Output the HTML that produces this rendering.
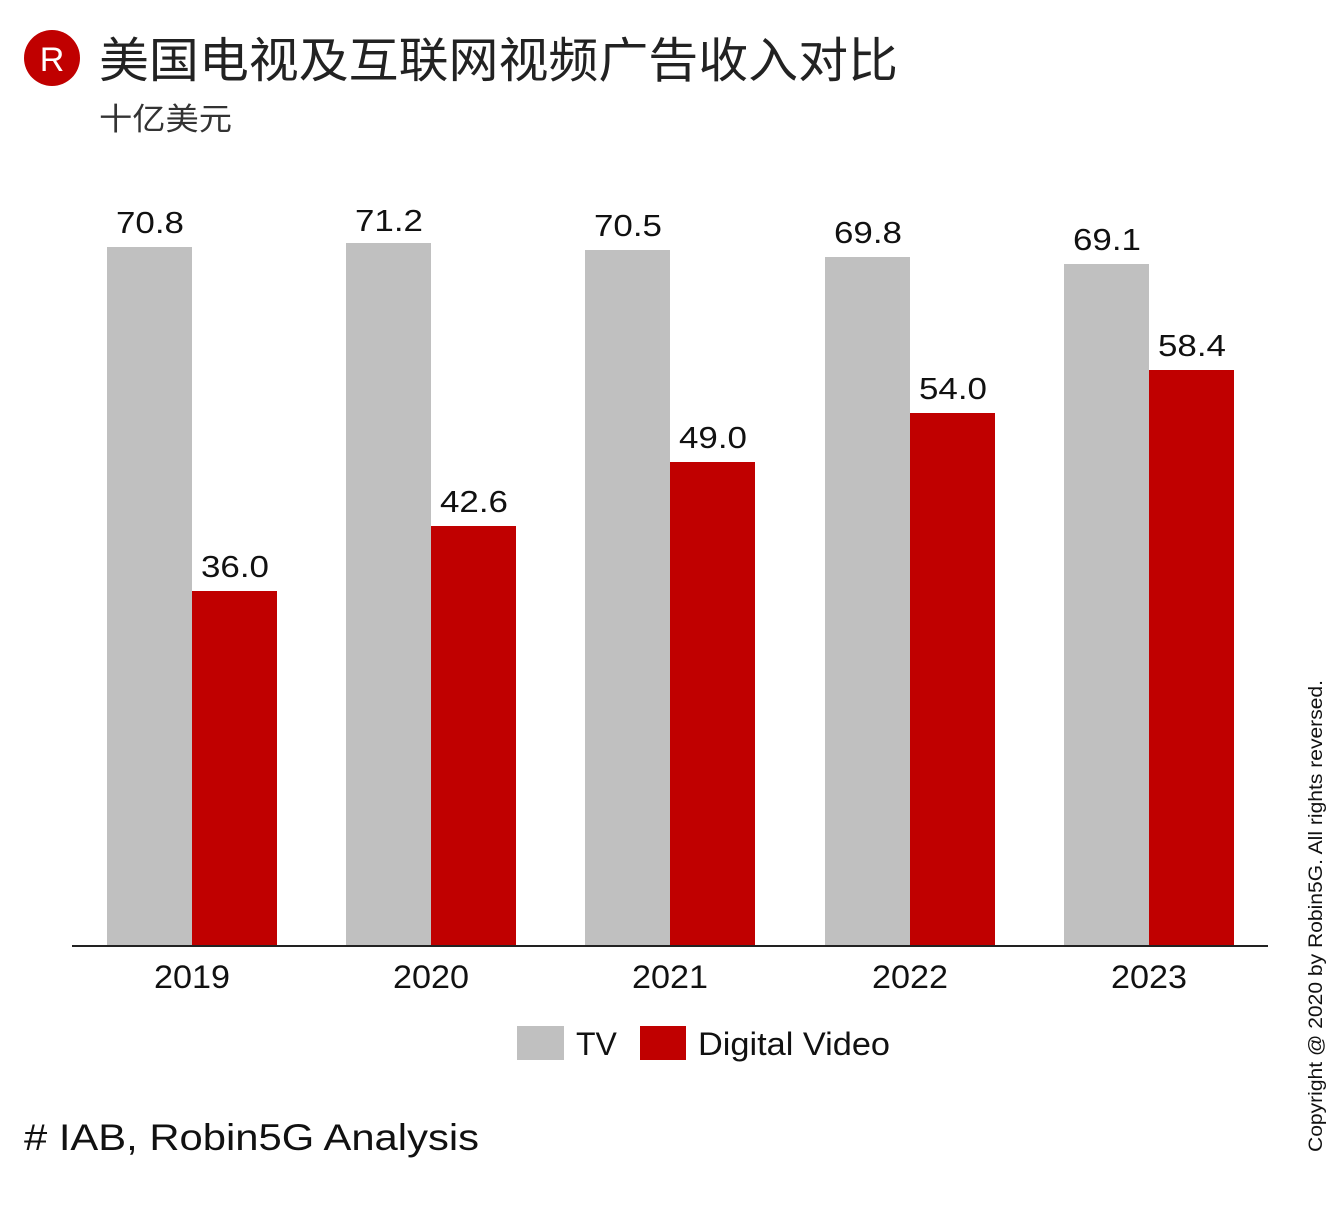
<!DOCTYPE html>
<html><head><meta charset="utf-8"><style>
body{margin:0;background:#fff;}
svg text{font-family:"Liberation Sans","Noto Sans CJK SC",sans-serif;}
</style></head><body>
<svg width="1339" height="1200" viewBox="0 0 1339 1200" xmlns="http://www.w3.org/2000/svg">
<circle cx="52" cy="58" r="28" fill="#c00000"/>
<text x="52" y="71" font-size="34" fill="#fff" text-anchor="middle">R</text>
<text x="99" y="77" font-size="48" fill="#222" textLength="799" lengthAdjust="spacingAndGlyphs">美国电视及互联网视频广告收入对比</text>
<text x="99" y="130" font-size="31" fill="#333" textLength="133" lengthAdjust="spacingAndGlyphs">十亿美元</text>
<g fill="#c0c0c0">
<rect x="107" y="247" width="85" height="699"/>
<rect x="346" y="243" width="85" height="703"/>
<rect x="585" y="250" width="85" height="696"/>
<rect x="825" y="257" width="85" height="689"/>
<rect x="1064" y="264" width="85" height="682"/>
</g>
<g fill="#c00000">
<rect x="192" y="591" width="85" height="355"/>
<rect x="431" y="526" width="85" height="420"/>
<rect x="670" y="462" width="85" height="484"/>
<rect x="910" y="413" width="85" height="533"/>
<rect x="1149" y="370" width="85" height="576"/>
</g>
<line x1="72" y1="946" x2="1268" y2="946" stroke="#222" stroke-width="2"/>
<g font-size="31" fill="#111" text-anchor="middle">
<text x="150" y="233" textLength="68" lengthAdjust="spacingAndGlyphs">70.8</text>
<text x="389" y="231" textLength="68" lengthAdjust="spacingAndGlyphs">71.2</text>
<text x="628" y="236" textLength="68" lengthAdjust="spacingAndGlyphs">70.5</text>
<text x="868" y="243" textLength="68" lengthAdjust="spacingAndGlyphs">69.8</text>
<text x="1107" y="250" textLength="68" lengthAdjust="spacingAndGlyphs">69.1</text>
<text x="235" y="577" textLength="68" lengthAdjust="spacingAndGlyphs">36.0</text>
<text x="474" y="512" textLength="68" lengthAdjust="spacingAndGlyphs">42.6</text>
<text x="713" y="448" textLength="68" lengthAdjust="spacingAndGlyphs">49.0</text>
<text x="953" y="399" textLength="68" lengthAdjust="spacingAndGlyphs">54.0</text>
<text x="1192" y="356" textLength="68" lengthAdjust="spacingAndGlyphs">58.4</text>
</g>
<g font-size="32" fill="#111" text-anchor="middle">
<text x="192" y="988" textLength="76" lengthAdjust="spacingAndGlyphs">2019</text>
<text x="431" y="988" textLength="76" lengthAdjust="spacingAndGlyphs">2020</text>
<text x="670" y="988" textLength="76" lengthAdjust="spacingAndGlyphs">2021</text>
<text x="910" y="988" textLength="76" lengthAdjust="spacingAndGlyphs">2022</text>
<text x="1149" y="988" textLength="76" lengthAdjust="spacingAndGlyphs">2023</text>
</g>
<rect x="517" y="1026" width="47" height="34" fill="#c0c0c0"/>
<text x="576" y="1055" font-size="32" fill="#111">TV</text>
<rect x="640" y="1026" width="46" height="34" fill="#c00000"/>
<text x="698" y="1055" font-size="32" fill="#111" textLength="192" lengthAdjust="spacingAndGlyphs">Digital Video</text>
<text x="24" y="1150" font-size="37" fill="#111" textLength="455" lengthAdjust="spacingAndGlyphs"># IAB, Robin5G Analysis</text>
<text transform="translate(1322,1152) rotate(-90)" font-size="19" fill="#111" textLength="472" lengthAdjust="spacingAndGlyphs">Copyright @ 2020 by Robin5G. All rights reversed.</text>
</svg>
</body></html>
